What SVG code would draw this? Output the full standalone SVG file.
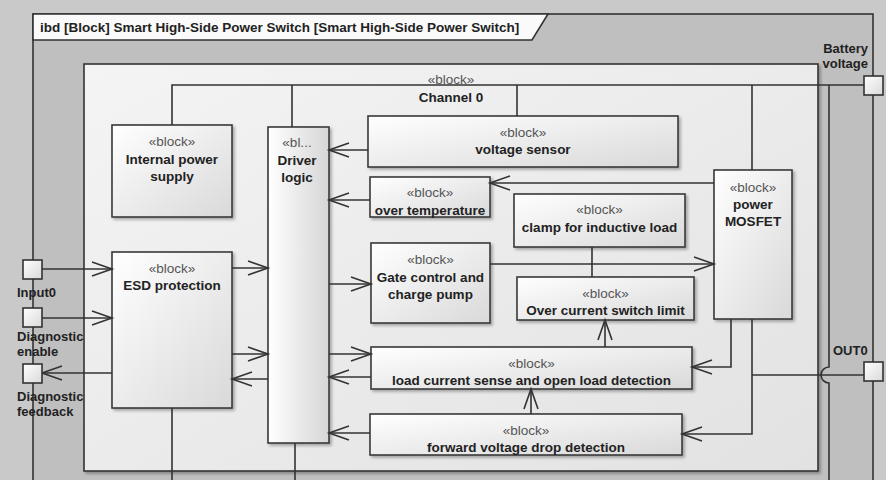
<svg xmlns="http://www.w3.org/2000/svg" width="886" height="480" viewBox="0 0 886 480">
<defs>
<linearGradient id="gb" x1="0" y1="0" x2="1" y2="1">
<stop offset="0" stop-color="#ffffff"/><stop offset="1" stop-color="#d9d9d9"/>
</linearGradient>
<linearGradient id="gv" x1="0" y1="0" x2="1" y2="0">
<stop offset="0" stop-color="#ffffff"/><stop offset="1" stop-color="#d6d6d6"/>
</linearGradient>
<linearGradient id="gc" x1="0" y1="0" x2="1" y2="1">
<stop offset="0" stop-color="#f4f4f4"/><stop offset="1" stop-color="#e2e2e2"/>
</linearGradient>
<filter id="sh" x="-10%" y="-10%" width="130%" height="130%">
<feDropShadow dx="2" dy="2" stdDeviation="1.5" flood-color="#000" flood-opacity="0.3"/>
</filter>
<marker id="ar" viewBox="-1 -1 22 16" refX="20" refY="7" markerWidth="22" markerHeight="16" markerUnits="userSpaceOnUse" orient="auto" overflow="visible">
<path d="M0,0 L20,7 L0,14" fill="none" stroke="#333" stroke-width="1.6"/>
</marker>
</defs>
<style>
.blk{fill:url(#gb);stroke:#3a3a3a;stroke-width:1.6;filter:url(#sh)}
.blkv{fill:url(#gv);stroke:#3a3a3a;stroke-width:1.6;filter:url(#sh)}
.port{fill:url(#gb);stroke:#333;stroke-width:1.6}
.ln{fill:none;stroke:#333;stroke-width:1.6}
.arr{fill:none;stroke:#333;stroke-width:1.6;marker-end:url(#ar)}
.st{font-family:"Liberation Sans",Arial,sans-serif;font-size:13.5px;fill:#555;text-anchor:middle}
.nm{font-family:"Liberation Sans",Arial,sans-serif;font-size:13.5px;font-weight:bold;fill:#222;text-anchor:middle}
.lb{font-family:"Liberation Sans",Arial,sans-serif;font-size:13px;font-weight:bold;fill:#222}
.tt{font-family:"Liberation Sans",Arial,sans-serif;font-size:13.5px;font-weight:bold;fill:#222}
</style>
<rect x="0" y="0" width="886" height="480" fill="#c9c9c9"/>
<g id="frame">
<rect x="33" y="14" width="840" height="500" fill="#bfbfbf" stroke="#333" stroke-width="1.6"/>
<path d="M33,14 H548 L532,40 H33 Z" fill="#fafafa" stroke="#333" stroke-width="1.6"/>
<text class="tt" x="40" y="32">ibd [Block] Smart High-Side Power Switch [Smart High-Side Power Switch]</text>
</g>
<g id="channel0">
<rect x="84" y="64" width="734" height="407" fill="url(#gc)" stroke="#333" stroke-width="1.6" filter="url(#sh)"/>
<text class="st" x="451" y="84">«block»</text>
<text class="nm" x="451" y="102">Channel 0</text>
</g>
<g id="internal-power-supply">
<rect class="blk" x="112" y="125" width="120" height="92"/>
<text class="st" x="172" y="146">«block»</text>
<text class="nm" x="172" y="164">Internal power</text>
<text class="nm" x="172" y="181">supply</text>
</g>
<g id="driver-logic">
<rect class="blkv" x="268" y="127" width="61" height="316"/>
<text class="st" x="297" y="147">«bl...</text>
<text class="nm" x="297" y="165">Driver</text>
<text class="nm" x="297" y="182">logic</text>
</g>
<g id="voltage-sensor">
<rect class="blk" x="368" y="116" width="310" height="51"/>
<text class="st" x="523" y="137">«block»</text>
<text class="nm" x="523" y="154">voltage sensor</text>
</g>
<g id="over-temperature">
<rect class="blk" x="370" y="177" width="120" height="40"/>
<text class="st" x="430" y="197">«block»</text>
<text class="nm" x="430" y="215">over temperature</text>
</g>
<g id="clamp">
<rect class="blk" x="514" y="194" width="171" height="53"/>
<text class="st" x="599.5" y="214">«block»</text>
<text class="nm" x="599.5" y="232">clamp for inductive load</text>
</g>
<g id="power-mosfet">
<rect class="blk" x="714" y="170" width="78" height="149"/>
<text class="st" x="753" y="192">«block»</text>
<text class="nm" x="753" y="209">power</text>
<text class="nm" x="753" y="226">MOSFET</text>
</g>
<g id="esd-protection">
<rect class="blk" x="112" y="252" width="120" height="156"/>
<text class="st" x="172" y="273">«block»</text>
<text class="nm" x="172" y="290">ESD protection</text>
</g>
<g id="gate-control">
<rect class="blk" x="371" y="243" width="119" height="80"/>
<text class="st" x="430.5" y="264">«block»</text>
<text class="nm" x="430.5" y="282">Gate control and</text>
<text class="nm" x="430.5" y="299">charge pump</text>
</g>
<g id="over-current">
<rect class="blk" x="517" y="277" width="177" height="43"/>
<text class="st" x="605.5" y="298">«block»</text>
<text class="nm" x="605.5" y="315">Over current switch limit</text>
</g>
<g id="load-current">
<rect class="blk" x="371" y="347" width="321" height="42"/>
<text class="st" x="531.5" y="368">«block»</text>
<text class="nm" x="531.5" y="385">load current sense and open load detection</text>
</g>
<g id="forward-voltage">
<rect class="blk" x="370" y="414" width="312" height="41"/>
<text class="st" x="526" y="435">«block»</text>
<text class="nm" x="526" y="452">forward voltage drop detection</text>
</g>
<g id="connectors">
<path class="ln" d="M172,125 V85 H864"/>
<path class="ln" d="M292,85 V127"/>
<path class="ln" d="M517,85 V116"/>
<path class="ln" d="M752,85 V170"/>
<path class="ln" d="M829,85 V367 A8,8 0 0 0 829,383 V480"/>
<path class="ln" d="M172,408 V480"/>
<path class="ln" d="M295,443 V480"/>
<path class="arr" d="M42,269 H112"/>
<path class="arr" d="M42,318 H112"/>
<path class="arr" d="M112,373 H42"/>
<path class="arr" d="M232,268 H268"/>
<path class="arr" d="M232,354 H268"/>
<path class="arr" d="M268,379 H232"/>
<path class="arr" d="M368,150 H329"/>
<path class="arr" d="M370,200 H329"/>
<path class="arr" d="M329,284 H371"/>
<path class="arr" d="M329,354 H371"/>
<path class="arr" d="M371,377 H329"/>
<path class="arr" d="M370,433 H329"/>
<path class="arr" d="M714,183 H490"/>
<path class="arr" d="M490,264 H714"/>
<path class="ln" d="M592,247 V277"/>
<path class="arr" d="M605,347 V320"/>
<path class="arr" d="M531,414 V389"/>
<path class="arr" d="M731,319 V367 H692"/>
<path class="arr" d="M752,319 V434 H682"/>
<path class="ln" d="M752,375 H864"/>
</g>
<g id="port-battery">
<rect class="port" x="864" y="76" width="19" height="19"/>
<text class="lb" x="868" y="53" text-anchor="end">Battery</text>
<text class="lb" x="868" y="68" text-anchor="end">voltage</text>
</g>
<g id="port-out0">
<rect class="port" x="864" y="362" width="19" height="19"/>
<text class="lb" x="833" y="355">OUT0</text>
</g>
<g id="port-input0">
<rect class="port" x="23" y="260" width="19" height="19"/>
<text class="lb" x="17" y="297">Input0</text>
</g>
<g id="port-diag-enable">
<rect class="port" x="23" y="308" width="19" height="19"/>
<text class="lb" x="17" y="341">Diagnostic</text>
<text class="lb" x="17" y="356">enable</text>
</g>
<g id="port-diag-feedback">
<rect class="port" x="23" y="364" width="19" height="19"/>
<text class="lb" x="17" y="401">Diagnostic</text>
<text class="lb" x="17" y="416">feedback</text>
</g>
</svg>
